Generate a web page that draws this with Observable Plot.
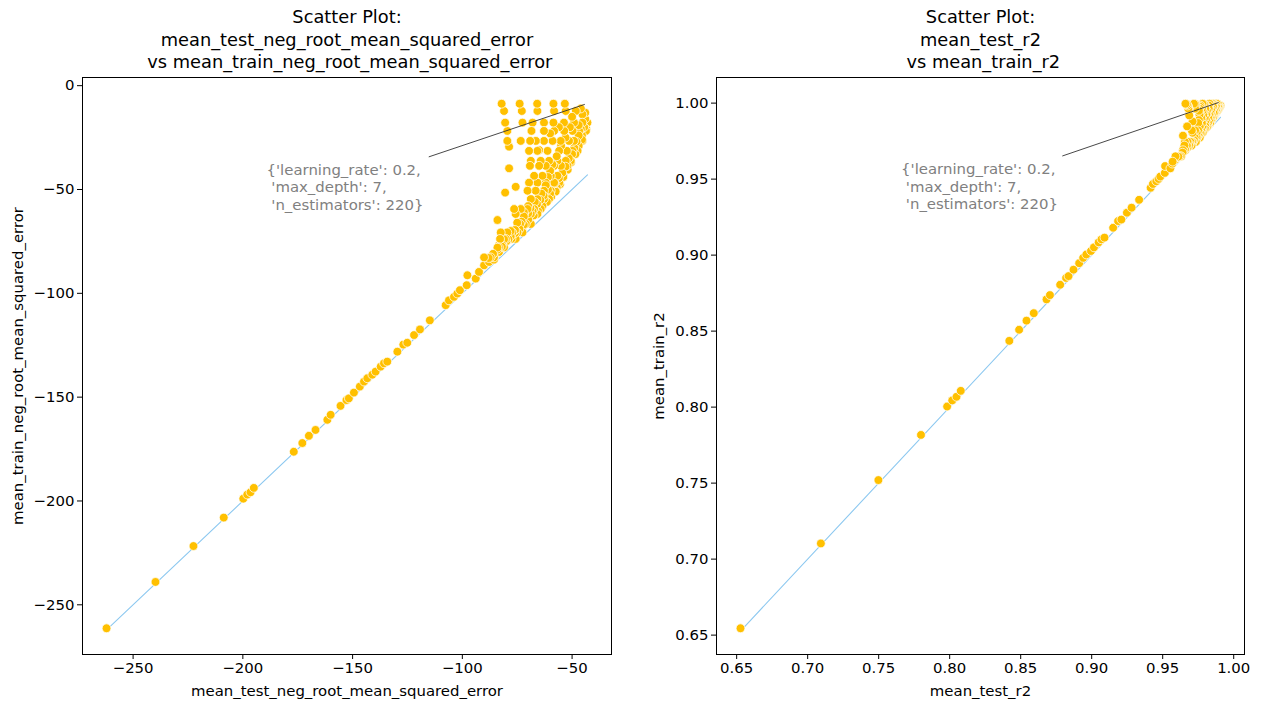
<!DOCTYPE html>
<html><head><meta charset="utf-8">
<script src="https://cdn.jsdelivr.net/npm/d3@7"></script>
<script src="https://cdn.jsdelivr.net/npm/@observablehq/plot@0.6"></script>
<style>
body{margin:0;background:#fff}
#wrap{position:relative;width:1264px;height:702px;background:#fff}
#wrap > svg{position:absolute;top:0}
svg text{white-space:pre}
</style>
</head><body><div id="wrap"></div>
<script>
// ---- data: [mean_test, mean_train] ----
const leftTail = [
 [-262.1,-261.3],[-239.8,-239.0],[-222.5,-221.7],[-208.7,-208.0],[-199.8,-198.9],[-198.0,-196.9],[-196.5,-195.8],[-195.0,-193.7],[-176.8,-176.3],[-172.9,-172.1],
 [-169.9,-168.6],[-166.9,-165.8],[-161.5,-160.9],[-160.0,-158.5],[-155.5,-154.2],[-152.8,-151.4],[-151.7,-150.6],[-149.4,-147.8],[-146.7,-144.9],[-144.8,-142.5],
 [-143.3,-140.9],[-141.0,-139.2],[-139.5,-137.7],[-137.2,-135.3],[-135.7,-133.7],[-134.2,-132.9],[-129.6,-128.1],[-126.9,-124.7],[-125.1,-123.8],[-122.0,-120.1],
 [-119.3,-117.4],[-114.8,-113.0],[-107.6,-105.7],[-106.1,-103.4],[-103.8,-101.7],[-102.3,-100.1],[-101.1,-98.5],[-98.0,-96.1],[-97.7,-91.3],[-93.9,-92.9],
 [-92.4,-89.7],[-90.1,-86.5],[-87.8,-84.9],[-85.6,-83.8],[-83.3,-80.1],[-83.3,-76.9]
];
const leftCluster = [
 [-82.1,-8.7],[-73.9,-8.7],[-65.9,-8.7],[-58.5,-8.7],[-53.3,-8.7],
 [-81.0,-12.2],[-72.9,-12.2],[-65.8,-12.2],[-58.2,-12.2],[-52.9,-12.2],[-48.3,-12.2],[-45.3,-13.8],
 [-80.5,-17.8],[-72.6,-17.8],[-68.0,-17.8],[-62.8,-17.8],[-58.5,-17.8],[-53.7,-17.8],[-49.1,-17.8],[-45.3,-17.8],[-43.0,-17.8],
 [-79.5,-21.8],[-68.5,-21.8],[-62.8,-21.8],[-58.2,-21.8],[-53.6,-21.8],[-49.8,-21.8],[-46.8,-21.8],[-43.7,-21.8],
 [-79.5,-26.6],[-73.4,-26.6],[-69.1,-26.6],[-66.5,-26.6],[-62.8,-26.6],[-58.9,-26.6],[-55.2,-26.6],[-51.4,-26.6],[-49.1,-26.6],[-45.3,-26.6],
 [-78.7,-29.4],
 [-69.6,-31.4],[-65.8,-31.4],[-61.2,-31.4],[-55.9,-31.4],[-52.4,-31.4],[-49.8,-31.4],[-47.5,-31.4],
 [-68.8,-36.2],[-64.3,-36.2],[-60.5,-36.2],[-56.7,-36.2],[-52.9,-36.2],[-50.6,-36.2],
 [-69.2,-38.6],[-65.0,-38.6],[-62.0,-38.6],[-58.2,-38.6],[-55.1,-38.6],[-52.1,-38.6],
 [-78.7,-39.8],
 [-67.3,-43.4],[-63.5,-43.4],[-59.7,-43.4],[-56.7,-43.4],[-53.9,-43.4],
 [-69.6,-46.7],[-65.8,-46.7],[-62.0,-46.7],[-58.2,-46.7],[-55.9,-46.7],
 [-75.7,-48.7],
 [-70.3,-50.6],[-66.6,-50.6],[-62.8,-50.6],[-59.7,-50.6],[-57.4,-50.6],
 [-80.5,-51.5],
 [-68.8,-54.6],[-65.8,-54.6],[-62.8,-54.6],[-60.5,-54.6],
 [-76.4,-59.4],[-73.4,-59.4],[-70.3,-59.4],[-67.3,-59.4],[-64.3,-59.4],
 [-75.7,-61.8],[-71.9,-61.8],[-68.8,-61.8],[-65.8,-61.8],
 [-84.0,-64.7],
 [-73.7,-66.6],[-71.1,-66.6],[-68.8,-66.6],
 [-82.5,-70.7],[-79.5,-70.7],[-77.2,-70.7],[-74.9,-70.7],[-72.6,-70.7],
 [-82.8,-73.8],[-80.2,-73.8],[-77.6,-73.8],[-75.7,-73.8],
 [-83.3,-77.9],[-81.0,-77.9],
 [-90.1,-82.7],[-87.1,-82.7],[-85.6,-82.7],
 [-60,-41],[-57,-34],[-62,-48],[-64,-52],[-67,-56],[-70,-58],[-72,-61],[-61,-44],[-59,-38],[-55,-29],
 [-53,-25],[-51,-20],[-47,-19],[-44,-16],[-46,-11],[-50,-15],[-56,-20],[-60,-23],[-65,-31],
 [-45.5,-24],[-47,-29],[-48.5,-33],[-50.5,-37],[-52,-40.5],[-54,-44],[-55.5,-47.5],[-57.5,-51],[-59.5,-53.5],[-61.5,-56],
 [-63.5,-58],[-65.5,-60.5],[-67.5,-62.5],[-70,-64.5],[-72,-67],[-74,-69],[-76,-71],[-78,-72.5],[-80,-75],[-82,-76.5],
 [-84,-79],[-86,-81],[-88,-83],
 [-84,-78],[-82,-77.5],[-81,-74],[-79,-74],[-78,-70],[-76,-69.5],[-75,-66],[-73,-65.5],[-72,-63],[-70,-61.5],
 [-69,-59],[-68,-60.5],[-66,-57],[-64.5,-55],[-63,-53],[-61,-50],[-60,-52],[-58,-47],[-57,-49],[-56,-44.5],
 [-54.5,-42],[-53,-39],[-51.5,-35],[-50,-33],[-49,-30],[-48,-27],[-47,-24],[-46,-21],[-44.5,-20],[-44,-13],
 [-43.5,-21],[-45.5,-26]
];
const rightTail = [
 [0.6527,0.6545],[0.7093,0.7103],[0.7498,0.7520],[0.7798,0.7817],[0.7982,0.8004],[0.8018,0.8044],[0.8048,0.8068],[0.8078,0.8107],[0.8420,0.8436],[0.8489,0.8509],
 [0.8541,0.8569],[0.8592,0.8618],[0.8682,0.8709],[0.8706,0.8737],[0.8778,0.8805],[0.8820,0.8850],[0.8837,0.8862],[0.8872,0.8904],[0.8912,0.8947],[0.8940,0.8982],
 [0.8962,0.9004],[0.8995,0.9027],[0.9016,0.9051],[0.9049,0.9084],[0.9069,0.9104],[0.9090,0.9115],[0.9151,0.9180],[0.9186,0.9224],[0.9209,0.9234],[0.9248,0.9279],
 [0.9281,0.9312],[0.9334,0.9364],[0.9415,0.9443],[0.9431,0.9468],[0.9455,0.9486],[0.9471,0.9501],[0.9483,0.9517],[0.9515,0.9541],[0.9517,0.9586],[0.9554,0.9571],
 [0.9568,0.9602],[0.9590,0.9629],[0.9610,0.9644],[0.9630,0.9653],[0.9649,0.9684],[0.9649,0.9708]
];
const rightCluster = [
 [0.966,0.9996],[0.972,0.9996],[0.978,0.9996],[0.983,0.9996],[0.986,0.9996],[0.988,0.9996],
 [0.967,0.9993],[0.973,0.9993],[0.979,0.9993],[0.9855,0.9993],[0.989,0.9993],
 [0.9675,0.9984],[0.9733,0.9984],[0.9767,0.9984],[0.980,0.9984],[0.9825,0.9984],[0.9855,0.9984],[0.9878,0.9984],[0.9896,0.9984],[0.9907,0.9984],
 [0.968,0.9976],[0.9763,0.9976],[0.980,0.9976],[0.9829,0.9976],[0.9855,0.9976],[0.9875,0.9976],[0.989,0.9976],[0.9903,0.9976],
 [0.968,0.9964],[0.9728,0.9964],[0.9759,0.9964],[0.9776,0.9964],[0.980,0.9964],[0.9824,0.9964],[0.9846,0.9964],[0.9867,0.9964],[0.9878,0.9964],[0.9896,0.9964],
 [0.9687,0.9956],
 [0.9755,0.995],[0.9781,0.995],[0.9811,0.995],[0.9842,0.995],[0.9861,0.995],[0.9875,0.995],[0.9886,0.995],
 [0.9761,0.9933],[0.979,0.9933],[0.9815,0.9933],[0.9837,0.9933],[0.9859,0.9933],[0.987,0.9933],
 [0.9759,0.9924],[0.9786,0.9924],[0.9806,0.9924],[0.9829,0.9924],[0.9845,0.9924],[0.9861,0.9924],
 [0.9687,0.9919],
 [0.9771,0.9904],[0.9796,0.9904],[0.982,0.9904],[0.9837,0.9904],[0.9853,0.9904],
 [0.9755,0.9888],[0.9781,0.9888],[0.9806,0.9888],[0.9829,0.9888],[0.9841,0.9888],
 [0.971,0.9879],
 [0.975,0.9869],[0.9776,0.9869],[0.980,0.9869],[0.9819,0.9869],[0.9833,0.9869],
 [0.9672,0.9847],[0.9761,0.9847],[0.9781,0.9847],[0.980,0.9847],[0.9815,0.9847],
 [0.9705,0.982],[0.9728,0.982],[0.975,0.982],[0.9771,0.982],[0.979,0.982],
 [0.971,0.9805],[0.9739,0.9805],[0.9761,0.9805],[0.9781,0.9805],
 [0.9643,0.9786],
 [0.9725,0.9773],[0.9744,0.9773],[0.9761,0.9773],
 [0.9656,0.9745],[0.9675,0.9745],[0.9695,0.9745],[0.9712,0.9745],[0.9733,0.9745],
 [0.9653,0.9721],[0.967,0.9721],[0.9687,0.9721],[0.9703,0.9721],
 [0.9643,0.969],[0.9659,0.969],
 [0.959,0.965],[0.962,0.965],[0.963,0.965],
 [0.9896,0.9971],[0.9888,0.9957],[0.988,0.9944],[0.9871,0.993],[0.9863,0.9916],[0.9852,0.99],[0.9844,0.9887],[0.9833,0.9867],[0.9821,0.9853],[0.981,0.984],
 [0.9798,0.9829],[0.9783,0.9812],[0.9769,0.98],[0.9752,0.9787],[0.9738,0.9771],[0.972,0.9756],[0.9707,0.9742],[0.969,0.973],[0.9675,0.9711],[0.9657,0.9699],
 [0.964,0.9674],[0.961,0.9648],[0.957,0.9615]
];

const leftXTicks = [-250, -200, -150, -100, -50];
const leftYTicks = [0, -50, -100, -150, -200, -250];
const rightXTicks = [0.65, 0.70, 0.75, 0.80, 0.85, 0.90, 0.95, 1.00];
const rightYTicks = [0.65, 0.70, 0.75, 0.80, 0.85, 0.90, 0.95, 1.00];

const annotationLabel = "{'learning_rate': 0.2,\n 'max_depth': 7,\n 'n_estimators': 220}";
// annotation [x, y] in data units: text anchor, arrow start, arrow end
const leftAnnoText = [-189.2, -48.7];
const leftAnnoFrom = [-115.3, -34.3];
const leftAnnoTo = [-44.2, -9.0];
const rightAnnoText = [0.7658, 0.9454];
const rightAnnoFrom = [0.8793, 0.9652];
const rightAnnoTo = [0.9894, 1.0004];

const titles = [
  "Scatter Plot:\nmean_test_neg_root_mean_squared_error\n vs mean_train_neg_root_mean_squared_error",
  "Scatter Plot:\nmean_test_r2\n vs mean_train_r2"
];
const xLabels = ["mean_test_neg_root_mean_squared_error", "mean_test_r2"];
const yLabels = ["mean_train_neg_root_mean_squared_error", "mean_train_r2"];

const DOT = "#ffc000";
const DIAG = "#8cc8f0";
const FS = 14.9;

function padDomain(vals) {
  const [a, b] = d3.extent(vals);
  const r = b - a;
  return [a - 0.05 * r, b + 0.05 * r];
}

function panel(o) {
  const pts = o.points.map(([t, r]) => ({test: t, train: r}));
  const lo = d3.min(pts, d => d.test), hi = d3.max(pts, d => d.test);
  const diag = [{v: lo}, {v: hi}];
  // drawing order: rightmost first so the left columns sit on top
  const drawn = o.tail.map(([t, r]) => ({test: t, train: r}))
    .concat(o.cluster.map(([t, r]) => ({test: t, train: r})).sort((a, b) => b.test - a.test));
  return Plot.plot({
    width: 632, height: 702,
    marginLeft: o.ml, marginRight: o.mr, marginTop: 77, marginBottom: 48,
    style: {fontFamily: "DejaVu Sans", fontSize: FS + "px", color: "black", background: "white", overflow: "visible"},
    x: {domain: padDomain(pts.map(d => d.test)), ticks: o.xt, tickFormat: o.fmt, tickSize: 5, tickPadding: 3, label: null},
    y: {domain: padDomain(pts.map(d => d.train)), ticks: o.yt, tickFormat: o.fmt, tickSize: 5, tickPadding: 3, label: null},
    marks: [
      Plot.line(diag, {x: "v", y: "v", stroke: DIAG, strokeWidth: 1.1}),
      Plot.dot(drawn, {x: "test", y: "train", r: 4.4, fill: DOT, stroke: "white", strokeWidth: 0.75}),
      Plot.link([{a: o.from, b: o.to}], {x1: d => d.a[0], y1: d => d.a[1], x2: d => d.b[0], y2: d => d.b[1], stroke: "#333", strokeWidth: 0.9}),
      Plot.text([annotationLabel], {x: () => o.txt[0], y: () => o.txt[1], text: d => d, textAnchor: "start", lineAnchor: "middle", lineHeight: 1.17, fill: "#808080", fontSize: FS}),
      Plot.text([o.title], {frameAnchor: "top", dy: -39, text: d => d, textAnchor: "middle", lineAnchor: "middle", lineHeight: 1.26, fontSize: 17.8, fill: "black"}),
      Plot.text([o.xl], {frameAnchor: "bottom", dy: 37, text: d => d, textAnchor: "middle", lineAnchor: "middle", fontSize: FS, fill: "black"}),
      Plot.text([o.yl], {frameAnchor: "left", dx: o.ydx, rotate: -90, text: d => d, textAnchor: "middle", lineAnchor: "middle", fontSize: FS, fill: "black"}),
      Plot.frame({stroke: "black", strokeWidth: 1})
    ]
  });
}

const fmtInt = d3.format("d");
const fmt2 = d3.format(".2f");
const wrap = document.getElementById("wrap");

const left = panel({points: leftTail.concat(leftCluster), tail: leftTail, cluster: leftCluster, ml: 82, mr: 21, xt: leftXTicks, yt: leftYTicks, fmt: fmtInt,
  txt: leftAnnoText, from: leftAnnoFrom, to: leftAnnoTo, title: titles[0], xl: xLabels[0], yl: yLabels[0], ydx: -64});
left.style.left = "0px";
wrap.appendChild(left);

const right = panel({points: rightTail.concat(rightCluster), tail: rightTail, cluster: rightCluster, ml: 84, mr: 20, xt: rightXTicks, yt: rightYTicks, fmt: fmt2,
  txt: rightAnnoText, from: rightAnnoFrom, to: rightAnnoTo, title: titles[1], xl: xLabels[1], yl: yLabels[1], ydx: -57});
right.style.left = "632px";
wrap.appendChild(right);
</script>
</body></html>
